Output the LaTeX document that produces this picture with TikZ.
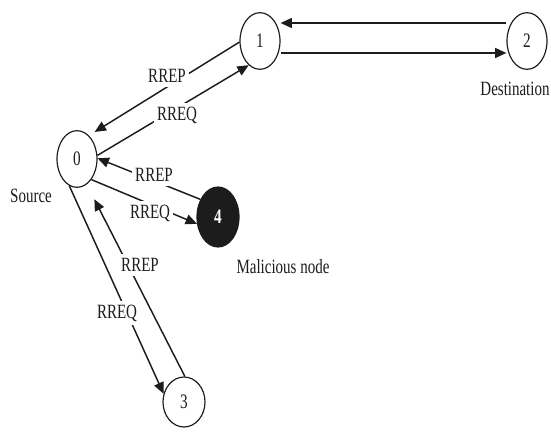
\documentclass[tikz,border=0pt]{standalone}
\usepackage{fontspec}
\setmainfont{Liberation Serif}
\usepackage{xcolor}
\usetikzlibrary{shapes.geometric,arrows.meta,positioning,calc}
\definecolor{Ink}{HTML}{1C1C1C}
\definecolor{Paper}{HTML}{FFFFFF}
\newcommand{\vnum}[1]{\scalebox{1}[1.35]{#1}}
\tikzset{
  mnode/.style={ellipse,draw=Ink,line width=1pt,minimum width=1.2cm,minimum height=1.7cm,
    inner sep=0pt,font=\fontsize{13}{13}\selectfont,text=Ink},
  badnode/.style={mnode,minimum width=1.26cm,minimum height=1.8cm,fill=Ink,text=Paper,
    font=\fontsize{13}{13}\bfseries},
  lbl/.style={font=\fontsize{12.8}{13}\selectfont,text=Ink,yscale=1.35,inner sep=0pt},
  msgtag/.style={lbl,fill=Paper,inner sep=2.5pt},
  msg/.style={draw=Ink,line width=1.25pt,-{Triangle[length=0.34cm,width=0.3cm]}}}
\begin{document}
\begin{tikzpicture}[x=0.03cm,y=0.03cm]
  \useasboundingbox (0,0) rectangle (551,437);
  % Nodes
  \node[mnode] (n0) at (77,278) {\vnum{0}};
  \node[mnode] (n1) at (260,396) {\vnum{1}};
  \node[mnode] (n2) at (527,396) {\vnum{2}};
  \node[mnode,minimum width=1.26cm,minimum height=1.5cm] (n3) at (184,35) {\vnum{3}};
  \node[badnode] (n4) at (218,220) {\vnum{4}};
  % Arrows
  \draw[msg] ([yshift=.54cm]n2.west) -- ([yshift=.54cm]n1.east);
  \draw[msg] ([yshift=-.36cm]n1.east) -- ([yshift=-.36cm]n2.west);
  \draw[msg,shorten >=.2cm] (n1.183) -- (n0.63);
  \draw[msg] (n0.10) -- (n1.245);
  \draw[msg] (n4.135) -- (n0.2);
  \draw[msg] (n0.305) -- (n4.198);
  \draw[msg,shorten >=.5cm] (n3.88) -- (n0.291);
  \draw[msg] (n0.254) -- (n3.158);
  % Message tags
  \node[msgtag] (t1) at (167,361) {RREP};
  \node[msgtag] (t2) at (177,322) {RREQ};
  \node[msgtag] (t3) at (154,262) {RREP};
  \node[msgtag] (t4) at (150,224) {RREQ};
  \node[msgtag] (t5) at (140,172) {RREP};
  \node[msgtag] (t6) at (117,124) {RREQ};
  % Roles
  \node[lbl] (src) at (31,241) {Source};
  \node[lbl] (dst) at (515,348) {Destination};
  \node[lbl] (mal) at (283,170) {Malicious node};
\end{tikzpicture}
\end{document}
